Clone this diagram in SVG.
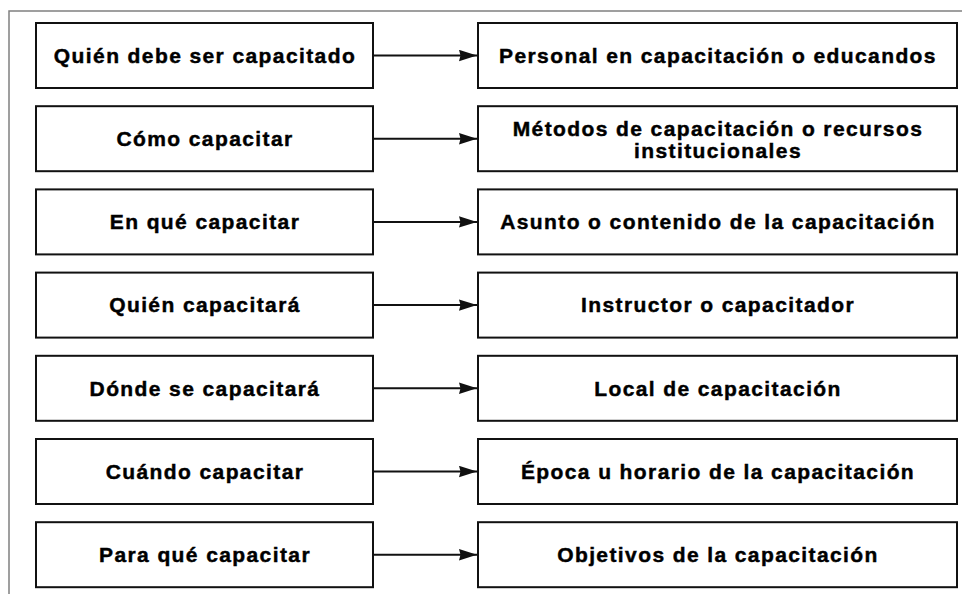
<svg xmlns="http://www.w3.org/2000/svg" width="962" height="594" viewBox="0 0 962 594">
<style>
.box{fill:#fff;stroke:#111;stroke-width:2}
.t{font-family:"Liberation Sans",Arial,sans-serif;font-weight:bold;font-size:21px;letter-spacing:1.4px;text-anchor:middle;fill:#000;stroke:#000;stroke-width:0.45}
.c{stroke:#111;stroke-width:2;fill:none;marker-end:url(#ah)}
.frame{stroke:#808080;stroke-width:1.5;fill:none}
</style>
<defs>
<marker id="ah" markerUnits="userSpaceOnUse" markerWidth="18" markerHeight="12" refX="18" refY="6" orient="auto">
<path d="M0,0.3 L18,6 L0,11.7 L1.5,6 Z" fill="#111"/>
</marker>
</defs>
<rect width="962" height="594" fill="#fff"/>
<path class="frame" d="M962,11 H9 V594"/>
<g id="l1"><rect class="box" x="36" y="23" width="337" height="65"/><text class="t" x="205" y="63">Quién debe ser capacitado</text></g>
<g id="l2"><rect class="box" x="36" y="106.2" width="337" height="65"/><text class="t" x="205" y="146">Cómo capacitar</text></g>
<g id="l3"><rect class="box" x="36" y="189.4" width="337" height="65"/><text class="t" x="205" y="229">En qué capacitar</text></g>
<g id="l4"><rect class="box" x="36" y="272.6" width="337" height="65"/><text class="t" x="205" y="312">Quién capacitará</text></g>
<g id="l5"><rect class="box" x="36" y="355.8" width="337" height="65"/><text class="t" x="205" y="395.5">Dónde se capacitará</text></g>
<g id="l6"><rect class="box" x="36" y="439" width="337" height="65"/><text class="t" x="205" y="478.5">Cuándo capacitar</text></g>
<g id="l7"><rect class="box" x="36" y="522.2" width="337" height="65"/><text class="t" x="205" y="562">Para qué capacitar</text></g>
<g id="r1"><rect class="box" x="478" y="23" width="479" height="65"/><text class="t" x="718" y="63">Personal en capacitación o educandos</text></g>
<g id="r2"><rect class="box" x="478" y="106.2" width="479" height="65"/><text class="t" x="718" y="136">Métodos de capacitación o recursos</text><text class="t" x="718" y="158">institucionales</text></g>
<g id="r3"><rect class="box" x="478" y="189.4" width="479" height="65"/><text class="t" x="718" y="229">Asunto o contenido de la capacitación</text></g>
<g id="r4"><rect class="box" x="478" y="272.6" width="479" height="65"/><text class="t" x="718" y="312">Instructor o capacitador</text></g>
<g id="r5"><rect class="box" x="478" y="355.8" width="479" height="65"/><text class="t" x="718" y="395.5">Local de capacitación</text></g>
<g id="r6"><rect class="box" x="478" y="439" width="479" height="65"/><text class="t" x="718" y="478.5">Época u horario de la capacitación</text></g>
<g id="r7"><rect class="box" x="478" y="522.2" width="479" height="65"/><text class="t" x="718" y="562">Objetivos de la capacitación</text></g>
<g id="connectors">
<line class="c" x1="373" y1="55.5" x2="477" y2="55.5"/>
<line class="c" x1="373" y1="138.7" x2="477" y2="138.7"/>
<line class="c" x1="373" y1="221.9" x2="477" y2="221.9"/>
<line class="c" x1="373" y1="305.1" x2="477" y2="305.1"/>
<line class="c" x1="373" y1="388.3" x2="477" y2="388.3"/>
<line class="c" x1="373" y1="471.5" x2="477" y2="471.5"/>
<line class="c" x1="373" y1="554.7" x2="477" y2="554.7"/>
</g>
</svg>
